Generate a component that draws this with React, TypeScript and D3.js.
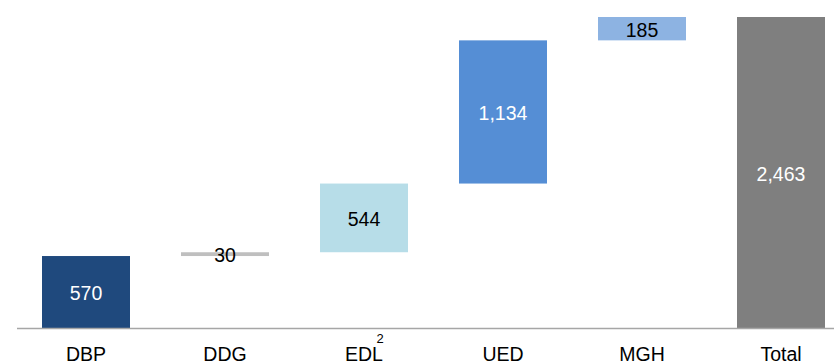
import React from "react";
import * as d3 from "d3";

const categories = ["DBP", "DDG", "EDL", "UED", "MGH", "Total"];
const values = [570, 30, 544, 1134, 185, 2463];
const isTotal = [false, false, false, false, false, true];
const valueLabels = ["570", "30", "544", "1,134", "185", "2,463"];
const barColors = ["#1f497d", "#bfbfbf", "#b7dde8", "#558ed5", "#8db3e2", "#7f7f7f"];
const labelColors = ["#ffffff", "#000000", "#000000", "#ffffff", "#000000", "#ffffff"];
const superscripts = ["", "", "2", "", "", ""];

const W = 834;
const H = 363;

export default function App() {
  const x = d3.scalePoint<string>().domain(categories).range([86, 781]);
  const y = d3.scaleLinear().domain([0, 2463]).range([328, 17]);
  const barW = 88;

  let cum = 0;
  const bars = values.map((v, i) => {
    let lo: number, hi: number;
    if (isTotal[i]) {
      lo = 0;
      hi = v;
    } else {
      lo = cum;
      hi = cum + v;
      cum = hi;
    }
    return { cat: categories[i], lo, hi, i };
  });

  const font = "Arial, 'Liberation Sans', sans-serif";

  return (
    <svg
      width={W}
      height={H}
      style={{ position: "absolute", left: 0, top: 0, background: "#fff" }}
    >
      {bars.map((b) => {
        const cx = x(b.cat)!;
        const y0 = y(b.hi);
        const y1 = y(b.lo);
        return (
          <rect
            key={b.cat}
            x={cx - barW / 2}
            y={y0}
            width={barW}
            height={y1 - y0}
            fill={barColors[b.i]}
          />
        );
      })}
      <line x1={17} x2={W} y1={328.5} y2={328.5} stroke="#a6a6a6" strokeWidth={1.5} />
      {bars.map((b) => {
        const cx = x(b.cat)!;
        const ym = (y(b.hi) + y(b.lo)) / 2 + 1;
        return (
          <text
            key={"v" + b.cat}
            x={cx}
            y={ym}
            textAnchor="middle"
            dominantBaseline="central"
            fontFamily={font}
            fontSize={19.5}
            fill={labelColors[b.i]}
          >
            {valueLabels[b.i]}
          </text>
        );
      })}
      {categories.map((c, i) => (
        <g key={"c" + c}>
          <text
            x={x(c)!}
            y={360.5}
            textAnchor="middle"
            fontFamily={font}
            fontSize={19.5}
            fill="#000"
          >
            {c}
          </text>
          {superscripts[i] && (
            <text
              x={x(c)! + 12.5}
              y={342.5}
              textAnchor="start"
              fontFamily={font}
              fontSize={13}
              fill="#000"
            >
              {superscripts[i]}
            </text>
          )}
        </g>
      ))}
    </svg>
  );
}
